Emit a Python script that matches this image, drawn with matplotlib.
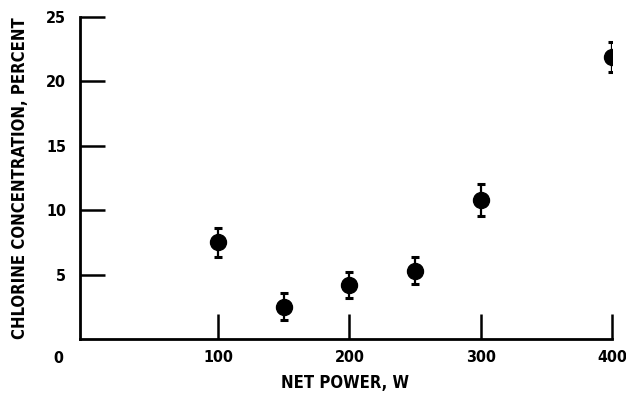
import matplotlib
matplotlib.use("Agg")
import matplotlib.pyplot as plt

# Measured chlorine concentration versus net power
net_power = [100, 150, 200, 250, 300, 400]
chlorine_pct = [7.5, 2.5, 4.2, 5.3, 10.8, 21.9]
chlorine_err = [1.1, 1.05, 1.0, 1.05, 1.25, 1.15]

x_ticks = [100, 200, 300, 400]
y_ticks = [5, 10, 15, 20, 25]

plt.rcParams["font.family"] = ["DejaVu Sans"]
plt.rcParams["font.stretch"] = "condensed"

fig = plt.figure(figsize=(6.26, 3.97), dpi=100)
ax = fig.add_axes([0.128, 0.146, 0.850, 0.811])

ax.errorbar(net_power, chlorine_pct, yerr=chlorine_err, fmt="o", color="black",
            markersize=11.5, elinewidth=1.6, capsize=3, capthick=2.2, zorder=3)

ax.set_xlim(-5, 400)
ax.set_ylim(0, 25)
ax.set_xticks(x_ticks)
ax.set_yticks(y_ticks)
ax.set_xticklabels([str(v) for v in x_ticks])
ax.set_yticklabels([str(v) for v in y_ticks])

for side in ("top", "right"):
    ax.spines[side].set_visible(False)
for side in ("left", "bottom"):
    ax.spines[side].set_linewidth(2.0)

ax.tick_params(axis="both", direction="in", length=18, width=1.8,
               labelsize=11.5)
ax.tick_params(axis="x", pad=8)
ax.tick_params(axis="y", pad=10)
for lbl in ax.get_xticklabels() + ax.get_yticklabels():
    lbl.set_fontweight("bold")
    lbl.set_fontstretch("condensed")

# Shared origin label below the corner
ax.annotate("0", xy=(0, 0), xycoords="axes fraction", xytext=(-16, -14),
            textcoords="offset points", ha="center", va="center",
            fontsize=11.5, fontweight="bold", fontstretch="condensed")

ax.set_xlabel("NET POWER, W", fontsize=12, fontweight="bold",
              fontstretch="condensed")
ax.set_ylabel("CHLORINE CONCENTRATION, PERCENT", fontsize=12,
              fontweight="bold", fontstretch="condensed")
ax.xaxis.set_label_coords(0.498, -0.108)
ax.yaxis.set_label_coords(-0.097, 0.5)

fig.savefig("out.png", dpi=100)
